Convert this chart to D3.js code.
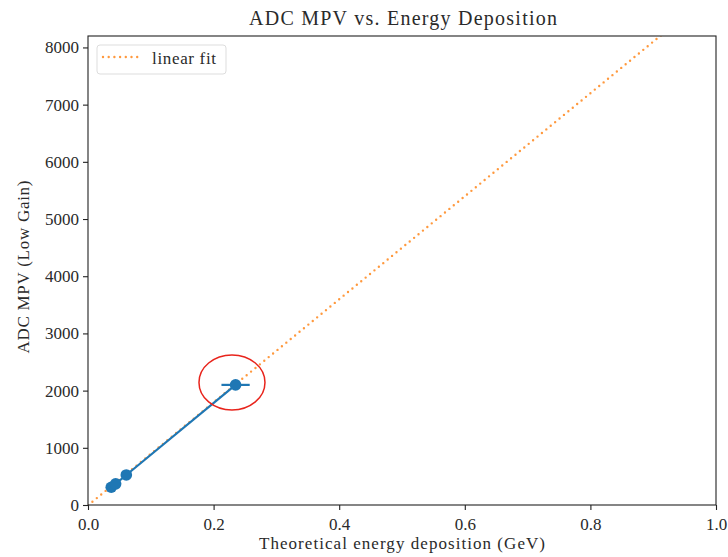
<!DOCTYPE html>
<html><head><meta charset="utf-8">
<script src="https://cdn.jsdelivr.net/npm/d3@7"></script>
<style>body{margin:0;background:#fff}svg{display:block}text{font-family:"Liberation Serif","Times New Roman",serif;fill:#2a2a2a}</style>
</head><body>
<svg id="c" width="728" height="557"></svg>
<script>
// data
const energy = [0.037, 0.044, 0.061, 0.235];
const adc = [310, 370, 525, 2100];
const energyErr = [0.002, 0.002, 0.002, 0.0225];
const fitSlope = 9007;
const fitIntercept = -6;
const xTicks = [0, 0.2, 0.4, 0.6, 0.8, 1.0];
const yTicks = [0, 1000, 2000, 3000, 4000, 5000, 6000, 7000, 8000];
const highlightIndex = 3;

const svg = d3.select("#c");
const L = 88, R = 716, T = 36, B = 505;
const x = d3.scaleLinear().domain([0, 1]).range([L, R]);
const y = d3.scaleLinear().domain([0, 8200]).range([B, T]);
const blue = "#1f77b4", orange = "#ff7f0e";

svg.append("defs").append("clipPath").attr("id", "clip")
  .append("rect").attr("x", L).attr("y", T).attr("width", R - L).attr("height", B - T);

// fit line
const fitX = [0, 1];
svg.append("line").attr("clip-path", "url(#clip)")
  .attr("x1", x(fitX[0])).attr("y1", y(fitSlope * fitX[0] + fitIntercept))
  .attr("x2", x(fitX[1])).attr("y2", y(fitSlope * fitX[1] + fitIntercept))
  .attr("stroke", orange).attr("stroke-opacity", 0.8).attr("stroke-width", 2.4)
  .attr("stroke-linecap", "round").attr("stroke-dasharray", "0 5.7");

// data line
const pts = energy.map((e, i) => [e, adc[i]]);
svg.append("path").datum(pts)
  .attr("d", d3.line().x(d => x(d[0])).y(d => y(d[1])))
  .attr("fill", "none").attr("stroke", blue).attr("stroke-width", 2.2);

// error bars
svg.selectAll(".err").data(pts).join("line")
  .attr("x1", (d, i) => x(d[0] - energyErr[i])).attr("x2", (d, i) => x(d[0] + energyErr[i]))
  .attr("y1", d => y(d[1])).attr("y2", d => y(d[1]))
  .attr("stroke", blue).attr("stroke-width", 2.2);

// markers
svg.selectAll(".pt").data(pts).join("circle")
  .attr("cx", d => x(d[0])).attr("cy", d => y(d[1])).attr("r", 5.8).attr("fill", blue);

// frame
svg.append("rect").attr("x", L).attr("y", T).attr("width", R - L).attr("height", B - T)
  .attr("fill", "none").attr("stroke", "#222").attr("stroke-width", 1.1);

// axes
const xa = svg.append("g").attr("transform", `translate(0,${B})`)
  .call(d3.axisBottom(x).tickValues(xTicks).tickFormat(d3.format(".1f")).tickSize(5).tickPadding(4));
const ya = svg.append("g").attr("transform", `translate(${L},0)`)
  .call(d3.axisLeft(y).tickValues(yTicks).tickFormat(d3.format("d")).tickSize(5).tickPadding(4));
[xa, ya].forEach(a => {
  a.select(".domain").remove();
  a.selectAll("line").attr("stroke", "#222").attr("stroke-width", 1.1);
  a.selectAll("text").style("font-family", '"Liberation Serif",serif').style("font-size", "17px").attr("fill", "#2a2a2a");
});
xa.selectAll("text").attr("dy", "0.95em");

// title and labels
svg.append("text").attr("x", 403).attr("y", 25).attr("text-anchor", "middle")
  .attr("font-size", 20).attr("textLength", 308).attr("lengthAdjust", "spacing")
  .text("ADC MPV vs. Energy Deposition");
svg.append("text").attr("x", 402).attr("y", 549).attr("text-anchor", "middle")
  .attr("font-size", 17).attr("textLength", 286).attr("lengthAdjust", "spacing")
  .text("Theoretical energy deposition (GeV)");
svg.append("text").attr("transform", "translate(29,267) rotate(-90)").attr("text-anchor", "middle")
  .attr("font-size", 17).attr("textLength", 173).attr("lengthAdjust", "spacing")
  .text("ADC MPV (Low Gain)");

// legend
const lg = svg.append("g");
lg.append("rect").attr("x", 97).attr("y", 45).attr("width", 129).attr("height", 29).attr("rx", 3)
  .attr("fill", "#fff").attr("stroke", "#ddd").attr("stroke-width", 1);
lg.append("line").attr("x1", 103).attr("x2", 138).attr("y1", 57).attr("y2", 57)
  .attr("stroke", orange).attr("stroke-opacity", 0.8).attr("stroke-width", 2.4)
  .attr("stroke-linecap", "round").attr("stroke-dasharray", "0 5.7");
lg.append("text").attr("x", 152).attr("y", 64).attr("font-size", 17)
  .attr("textLength", 64).attr("lengthAdjust", "spacing").text("linear fit");

// highlight annotation
const hp = pts[highlightIndex];
svg.append("ellipse").attr("cx", x(hp[0]) - 3.6).attr("cy", y(hp[1]) - 2.4)
  .attr("rx", 33).attr("ry", 27.5).attr("fill", "none").attr("stroke", "#e8241c").attr("stroke-width", 1.5);
</script>
</body></html>
